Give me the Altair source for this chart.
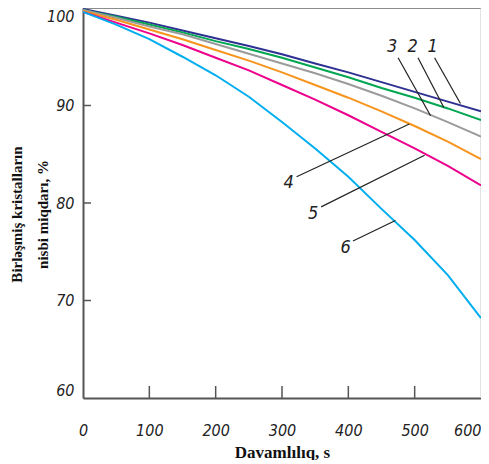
import altair as alt
import pandas as pd

# ---- data ----
t = [0, 50, 100, 150, 200, 250, 300, 350, 400, 450, 500, 550, 600]
s1 = [99.9, 99.2, 98.5, 97.7, 96.9, 96.1, 95.25, 94.3, 93.4, 92.4, 91.4, 90.4, 89.4]
s2 = [99.8, 99.1, 98.3, 97.5, 96.6, 95.8, 94.9, 93.9, 92.9, 91.8, 90.8, 89.7, 88.5]
s3 = [99.8, 99.0, 98.1, 97.3, 96.3, 95.3, 94.3, 93.3, 92.2, 91.0, 89.7, 88.3, 86.8]
s4 = [99.7, 98.8, 97.8, 96.8, 95.7, 94.6, 93.4, 92.1, 90.8, 89.4, 87.9, 86.3, 84.5]
s5 = [99.6, 98.5, 97.4, 96.2, 94.9, 93.6, 92.1, 90.6, 89.0, 87.3, 85.6, 83.8, 81.8]
s6 = [99.6, 98.3, 96.8, 95.0, 93.1, 90.9, 88.3, 85.6, 82.7, 79.4, 76.2, 72.6, 68.2]
series_names = ["1", "2", "3", "4", "5", "6"]
series_colors = ["#2E3192", "#00A651", "#9B9B9B", "#F7941D", "#EC008C", "#00AEEF"]

# curve labels and their leader lines (data coordinates)
lab_text = ["3", "2", "1", "4", "5", "6"]
lab_t = [466, 497, 527, 310, 347, 396]
lab_v = [96.0, 96.0, 96.0, 82.1, 78.9, 75.4]
lead_t1 = [475, 505, 530, 322, 359, 407]
lead_v1 = [94.9, 94.9, 94.9, 82.7, 79.6, 76.1]
lead_t2 = [524, 544, 569, 492, 515, 471]
lead_v2 = [88.95, 89.8, 90.2, 88.1, 84.9, 78.2]

x_ticks = [0, 100, 200, 300, 400, 500, 600]
y_ticks = [60, 70, 80, 90, 100]
x_inner_ticks = [100, 200, 300, 400, 500]
y_inner_ticks = [70, 80, 90]

W, H = 398, 390
LABEL_FONT = "Liberation Sans Narrow, DejaVu Sans Condensed, Arial Narrow, sans-serif"
TITLE_FONT = "Liberation Serif, Times New Roman, serif"

rows = []
for name, vals in zip(series_names, [s1, s2, s3, s4, s5, s6]):
    for tt, vv in zip(t, vals):
        rows.append({"t": tt, "v": vv, "s": name})
df = pd.DataFrame(rows)

xs = alt.Scale(domain=[0, 600], nice=False)
ys = alt.Scale(domain=[60, 100], nice=False)

x_axis = alt.Axis(
    values=x_ticks, ticks=False, grid=False, labelFont=LABEL_FONT, labelFontSize=16,
    labelFontStyle="italic", labelColor="#222", labelPadding=24, labelFlush=False,
    labelAlign={"condition": {"test": "datum.value == 600", "value": "right"}, "value": "center"},
    domainColor="#555", domainWidth=2,
    title="Davamlılıq, s", titleFont=TITLE_FONT, titleFontSize=17, titleFontWeight="bold",
    titleColor="#111", titleY=59, titleBaseline="alphabetic",
)
y_axis = alt.Axis(
    values=y_ticks, ticks=False, grid=False, labelFont=LABEL_FONT, labelFontSize=16,
    labelFontStyle="italic", labelColor="#222", labelPadding=9, labelFlush=True,
    domainColor="#555", domainWidth=2,
    title=["Birləşmiş kristalların", "nisbi miqdarı, %"], titleFont=TITLE_FONT,
    titleFontSize=15, titleFontWeight="bold", titleColor="#111",
    titleAngle=270, titleX=-74, titleY=206, titleBaseline="top", titleAlign="center",
    titleLineHeight=26,
)

lines = alt.Chart(df).mark_line(strokeWidth=2).encode(
    x=alt.X("t:Q", scale=xs, axis=x_axis),
    y=alt.Y("v:Q", scale=ys, axis=y_axis),
    color=alt.Color("s:N", scale=alt.Scale(domain=series_names, range=series_colors), legend=None),
    order=alt.Order("t:Q"),
)

border = alt.Data(values=[{"a": 1}])
top_border = alt.Chart(border).mark_rule(color="#8c8c8c", strokeWidth=2).encode(
    x=alt.datum(0, scale=xs), x2=alt.datum(600), y=alt.datum(100, scale=ys)
)
right_border = alt.Chart(border).mark_rule(color="#c8c8c8", strokeWidth=1).encode(
    x=alt.datum(600, scale=xs), y=alt.datum(60, scale=ys), y2=alt.datum(100)
)

xt = alt.Chart(pd.DataFrame({"t": x_inner_ticks})).mark_rule(color="#555", strokeWidth=1.5).encode(
    x=alt.X("t:Q", scale=xs), y=alt.value(H), y2=alt.value(H - 12)
)
yt = alt.Chart(pd.DataFrame({"v": y_inner_ticks})).mark_rule(color="#555", strokeWidth=1.5).encode(
    y=alt.Y("v:Q", scale=ys), x=alt.value(0), x2=alt.value(8)
)

lead_df = pd.DataFrame({"t1": lead_t1, "v1": lead_v1, "t2": lead_t2, "v2": lead_v2})
leaders = alt.Chart(lead_df).mark_rule(color="#222", strokeWidth=1.2).encode(
    x=alt.X("t1:Q", scale=xs), y=alt.Y("v1:Q", scale=ys), x2="t2:Q", y2="v2:Q"
)
lab_df = pd.DataFrame({"t": lab_t, "v": lab_v, "txt": lab_text})
labels = alt.Chart(lab_df).mark_text(
    font=LABEL_FONT, fontSize=18, fontStyle="italic", color="#222", align="center", baseline="middle"
).encode(x=alt.X("t:Q", scale=xs), y=alt.Y("v:Q", scale=ys), text="txt:N")

chart = alt.layer(top_border, right_border, lines, xt, yt, leaders, labels).properties(
    width=W, height=H,
    autosize=alt.AutoSizeParams(type="none"),
    padding={"left": 75, "top": 0, "right": 0, "bottom": 62},
).configure_view(stroke=None).configure(background="white")

chart.save("out.html", embed_options={"renderer": "svg", "actions": False})
